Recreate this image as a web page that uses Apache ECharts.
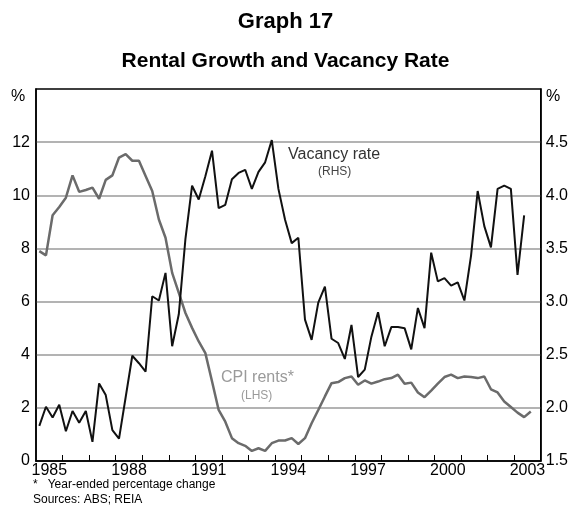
<!DOCTYPE html>
<html style="height: 100%">
<head>
<meta charset="UTF-8" />
<title>Graph 17</title>
<style>
html, body { margin: 0; padding: 0; background: #ffffff; }
#chartBox { width: 571px; height: 518px; }
</style>
</head>
<body>
	<div id="chartBox"></div>

	<script src="https://cdn.jsdelivr.net/npm/echarts@6.0.0/dist/echarts.min.js"></script>
	<script>
		// quarterly data, first quarter = 1985 Q1
		var startYear = 1985;
		// CPI rents, year-ended % change (LHS)
		var cpiRents = [7.90, 7.74, 9.25, 9.56, 9.91, 10.75, 10.13, 10.20, 10.29, 9.87,
			10.58, 10.75, 11.42, 11.55, 11.30, 11.30, 10.73, 10.16, 9.09, 8.40,
			7.08, 6.33, 5.57, 5.01, 4.50, 4.06, 3.00, 1.92, 1.48, 0.86,
			0.67, 0.57, 0.38, 0.48, 0.38, 0.67, 0.77, 0.77, 0.86, 0.64,
			0.86, 1.42, 1.92, 2.43, 2.93, 2.97, 3.12, 3.18, 2.87, 3.03,
			2.91, 2.99, 3.08, 3.12, 3.25, 2.91, 2.95, 2.58, 2.40, 2.65,
			2.91, 3.16, 3.25, 3.12, 3.18, 3.16, 3.12, 3.18, 2.70, 2.58,
			2.24, 2.03, 1.82, 1.65, 1.86];
		// vacancy rate, % (RHS)
		var vacancyRate = [1.83, 2.01, 1.91, 2.03, 1.78, 1.97, 1.86, 1.97, 1.68, 2.23,
			2.12, 1.79, 1.71, 2.10, 2.49, 2.42, 2.34, 3.05, 3.01, 3.27,
			2.58, 2.88, 3.59, 4.09, 3.96, 4.18, 4.42, 3.88, 3.91, 4.15,
			4.21, 4.24, 4.06, 4.22, 4.31, 4.52, 4.06, 3.77, 3.55, 3.60,
			2.83, 2.64, 2.99, 3.14, 2.65, 2.61, 2.46, 2.78, 2.29, 2.36,
			2.67, 2.90, 2.58, 2.76, 2.76, 2.75, 2.55, 2.94, 2.75, 3.46,
			3.19, 3.22, 3.15, 3.18, 3.01, 3.43, 4.04, 3.71, 3.51, 4.06,
			4.09, 4.06, 3.25, 3.81];
		var tickYears = [1986, 1987, 1988, 1989, 1990, 1991, 1992, 1993, 1994, 1995,
			1996, 1997, 1998, 1999, 2000, 2001, 2002, 2003];
		var labelYears = [1985, 1988, 1991, 1994, 1997, 2000, 2003];

		var fontName = 'Liberation Sans';

		// put each quarter in the middle of its quarter on the time axis
		function toPoints(values) {
			var res = [];
			for (var i = 0; i < values.length; i++) {
				res.push([startYear + (i + 0.5) / 4, values[i]]);
			}
			return res;
		}

		var myChart = echarts.init(document.getElementById('chartBox'), null, { renderer: 'canvas' });

		var option = {
			animation: false,
			backgroundColor: '#ffffff',
			textStyle: { fontFamily: fontName },
			title: [{
				text: 'Graph 17',
				left: 'center',
				top: 6,
				textStyle: { fontFamily: fontName, fontSize: 22, fontWeight: 'bold', color: '#000' }
			}, {
				text: 'Rental Growth and Vacancy Rate',
				left: 'center',
				top: 46,
				textStyle: { fontFamily: fontName, fontSize: 21, fontWeight: 'bold', color: '#000' }
			}],
			grid: {
				left: 36,
				right: 30,
				top: 89,
				bottom: 57,
				show: true,
				borderColor: '#000',
				borderWidth: 1.5
			},
			xAxis: {
				type: 'value',
				min: 1985,
				max: 2004,
				axisLine: { show: true, lineStyle: { color: '#000', width: 1.5 } },
				axisTick: {
					show: true,
					inside: true,
					length: 6,
					customValues: tickYears,
					lineStyle: { color: '#000', width: 1 }
				},
				axisLabel: {
					customValues: labelYears.map(function (y) { return y + 0.5; }),
					formatter: function (v) { return String(Math.floor(v)); },
					fontSize: 16,
					color: '#000',
					margin: 2
				},
				splitLine: { show: false }
			},
			yAxis: [{
				type: 'value',
				min: 0,
				max: 14,
				interval: 2,
				axisLine: { show: true, lineStyle: { color: '#000', width: 1.5 } },
				axisTick: { show: false },
				axisLabel: {
					formatter: function (v) { return v >= 14 ? '' : String(v); },
					fontSize: 16,
					color: '#000',
					margin: 6
				},
				splitLine: {
					show: true,
					showMinLine: false,
					showMaxLine: false,
					lineStyle: { color: '#9a9a9a', width: 1.5 }
				}
			}, {
				type: 'value',
				min: 1.5,
				max: 5,
				interval: 0.5,
				position: 'right',
				axisLine: { show: true, lineStyle: { color: '#000', width: 1.5 } },
				axisTick: { show: false },
				axisLabel: {
					formatter: function (v) { return v >= 4.99 ? '' : v.toFixed(1); },
					fontSize: 16,
					color: '#000',
					margin: 5
				},
				splitLine: { show: false }
			}],
			graphic: [
				{ type: 'text', left: 11, top: 89, style: { text: '%', fontSize: 16, fontFamily: fontName, fill: '#000' } },
				{ type: 'text', left: 546, top: 89, style: { text: '%', fontSize: 16, fontFamily: fontName, fill: '#000' } },
				{ type: 'text', left: 288, top: 147, style: { text: 'Vacancy rate', fontSize: 16, fontFamily: fontName, fill: '#333' } },
				{ type: 'text', left: 318, top: 166, style: { text: '(RHS)', fontSize: 12, fontFamily: fontName, fill: '#444' } },
				{ type: 'text', left: 221, top: 370, style: { text: 'CPI rents*', fontSize: 16, fontFamily: fontName, fill: '#9a9a9a' } },
				{ type: 'text', left: 241, top: 390, style: { text: '(LHS)', fontSize: 12, fontFamily: fontName, fill: '#9a9a9a' } },
				{ type: 'text', left: 33, top: 479, style: { text: '*   Year-ended percentage change', fontSize: 12, fontFamily: fontName, fill: '#000' } },
				{ type: 'text', left: 33, top: 494, style: { text: 'Sources: ABS; REIA', fontSize: 12, fontFamily: fontName, fill: '#000' } }
			],
			series: [{
				name: 'CPI rents',
				type: 'line',
				xAxisIndex: 0,
				yAxisIndex: 0,
				showSymbol: false,
				symbol: 'none',
				lineStyle: { color: '#6b6b6b', width: 2.5 },
				data: toPoints(cpiRents),
				z: 3
			}, {
				name: 'Vacancy rate',
				type: 'line',
				xAxisIndex: 0,
				yAxisIndex: 1,
				showSymbol: false,
				symbol: 'none',
				lineStyle: { color: '#111', width: 2 },
				data: toPoints(vacancyRate),
				z: 4
			}]
		};
		myChart.setOption(option);
	</script>
</body>
</html>
